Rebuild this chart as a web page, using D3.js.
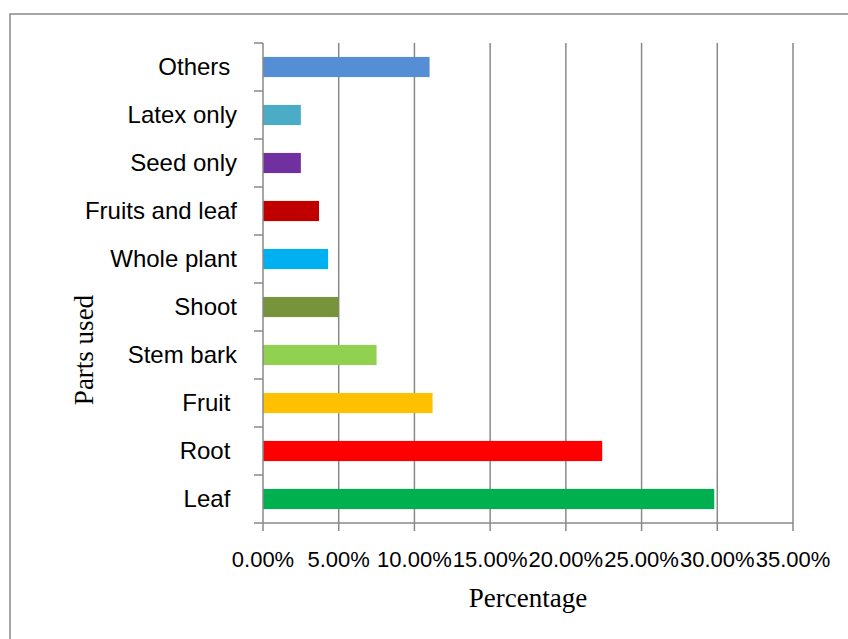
<!DOCTYPE html>
<html>
<head>
<meta charset="utf-8">
<script src="https://cdn.jsdelivr.net/npm/d3@7"></script>
<style>
  html, body { margin: 0; padding: 0; background: #fff; }
  svg { display: block; }
</style>
</head>
<body>
<svg id="chart" width="848" height="639"></svg>
<script>
// Data (top to bottom as shown)
const categories = ["Others ", "Latex only", "Seed only", "Fruits and leaf", "Whole plant", "Shoot", "Stem bark", "Fruit ", "Root ", "Leaf "];
const values = [0.110, 0.025, 0.025, 0.037, 0.043, 0.050, 0.075, 0.112, 0.224, 0.298];
const colors = ["#558ed5", "#4bacc6", "#7030a0", "#c00000", "#00b0f0", "#77933c", "#92d050", "#ffc000", "#ff0000", "#00b050"];
const xTicks = [0, 0.05, 0.10, 0.15, 0.20, 0.25, 0.30, 0.35];
const xTitle = "Percentage";
const yTitle = "Parts used";

const svg = d3.select("#chart");
const plotLeft = 263, plotRight = 793, plotTop = 43, plotBottom = 523;
const grey = "#898989";

// Outer chart border
svg.append("rect")
  .attr("x", 10).attr("y", 14)
  .attr("width", 860).attr("height", 660)
  .attr("fill", "none").attr("stroke", grey).attr("stroke-width", 1.5);

const x = d3.scaleLinear().domain([0, 0.35]).range([plotLeft, plotRight]);
const y = d3.scaleBand().domain(categories).range([plotTop, plotBottom]).padding(0);
const barH = y.bandwidth() * 0.42;

// Gridlines
svg.append("g").selectAll("line")
  .data(xTicks.slice(1))
  .join("line")
  .attr("x1", d => x(d)).attr("x2", d => x(d))
  .attr("y1", plotTop).attr("y2", plotBottom)
  .attr("stroke", grey).attr("stroke-width", 1.5);

// Bars
svg.append("g").selectAll("rect")
  .data(categories)
  .join("rect")
  .attr("x", x(0))
  .attr("y", d => y(d) + (y.bandwidth() - barH) / 2)
  .attr("width", (d, i) => x(values[i]) - x(0))
  .attr("height", barH)
  .attr("fill", (d, i) => colors[i]);

// Y axis line and ticks (at category boundaries)
const boundaries = categories.map(c => y(c)).concat([plotBottom]);
svg.append("line")
  .attr("x1", plotLeft).attr("x2", plotLeft).attr("y1", plotTop).attr("y2", plotBottom)
  .attr("stroke", grey).attr("stroke-width", 1.5);
svg.append("g").selectAll("line")
  .data(boundaries)
  .join("line")
  .attr("x1", plotLeft - 9).attr("x2", plotLeft)
  .attr("y1", d => d).attr("y2", d => d)
  .attr("stroke", grey).attr("stroke-width", 1.5);

// Y labels
svg.append("g").selectAll("text")
  .data(categories)
  .join("text")
  .attr("x", 237)
  .attr("y", d => y(d) + y.bandwidth() / 2)
  .attr("dy", "0.33em")
  .attr("text-anchor", "end")
  .attr("xml:space", "preserve")
  .style("white-space", "pre")
  .attr("font-family", "Liberation Sans, Arial, sans-serif")
  .attr("font-size", 24)
  .attr("fill", "#000")
  .text(d => d);

// X axis line and ticks
svg.append("line")
  .attr("x1", plotLeft).attr("x2", plotRight).attr("y1", plotBottom).attr("y2", plotBottom)
  .attr("stroke", grey).attr("stroke-width", 1.5);
svg.append("g").selectAll("line")
  .data(xTicks)
  .join("line")
  .attr("x1", d => x(d)).attr("x2", d => x(d))
  .attr("y1", plotBottom).attr("y2", plotBottom + 8)
  .attr("stroke", grey).attr("stroke-width", 1.5);

// X tick labels
svg.append("g").selectAll("text")
  .data(xTicks)
  .join("text")
  .attr("x", d => x(d))
  .attr("y", 566.7)
  .attr("text-anchor", "middle")
  .attr("font-family", "Liberation Sans, Arial, sans-serif")
  .attr("font-size", 22)
  .attr("fill", "#000")
  .text(d => d3.format(".2%")(d));

// Axis titles
svg.append("text")
  .attr("x", (plotLeft + plotRight) / 2)
  .attr("y", 606.7)
  .attr("text-anchor", "middle")
  .attr("font-family", "Liberation Serif, Times New Roman, serif")
  .attr("font-size", 27)
  .attr("fill", "#000")
  .text(xTitle);

svg.append("text")
  .attr("transform", "translate(93,350) rotate(-90)")
  .attr("text-anchor", "middle")
  .attr("font-family", "Liberation Serif, Times New Roman, serif")
  .attr("font-size", 27)
  .attr("fill", "#000")
  .text(yTitle);
</script>
</body>
</html>
